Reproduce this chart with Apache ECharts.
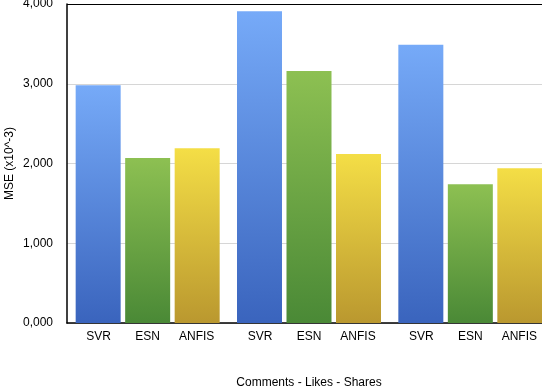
<!DOCTYPE html>
<html>
<head>
<meta charset="utf-8">
<style>
  html, body { margin: 0; padding: 0; background: #fff; }
  #chart { width: 542px; height: 386px; }
</style>
<script src="https://cdn.jsdelivr.net/npm/echarts@6/dist/echarts.min.js"></script>
</head>
<body>
<div id="chart"></div>
<script>
// 数据
var groups = ['Comments', 'Likes', 'Shares'];
var models = ['SVR', 'ESN', 'ANFIS'];
var svrValues = [2.98, 3.91, 3.49];
var esnValues = [2.07, 3.16, 1.74];
var anfisValues = [2.19, 2.12, 1.94];
var yTicks = [0, 1, 2, 3, 4];

var colorStops = [
  ['#76aaf8', '#3a64bd'],
  ['#8dc052', '#4a8936'],
  ['#f4de46', '#ba982f']
];

function grad(c) {
  return new echarts.graphic.LinearGradient(0, 0, 0, 1, [
    { offset: 0, color: c[0] },
    { offset: 1, color: c[1] }
  ]);
}

var seriesValues = [svrValues, esnValues, anfisValues];
var series = models.map(function (name, i) {
  return {
    name: name,
    type: 'bar',
    barWidth: 45,
    barGap: '10%',
    itemStyle: { color: grad(colorStops[i]) },
    data: seriesValues[i]
  };
});

var chart = echarts.init(document.getElementById('chart'));
chart.setOption({
  animation: false,
  textStyle: { fontFamily: 'Liberation Sans, Arial, sans-serif' },
  grid: { left: 67, right: -9, top: 4, bottom: 63, containLabel: false, outerBoundsMode: 'none' },
  xAxis: {
    type: 'category',
    data: groups,
    name: groups.join(' - '),
    nameLocation: 'middle',
    nameGap: 54,
    nameMoveOverlap: false,
    nameTextStyle: { color: '#000', fontSize: 12 },
    axisLine: { lineStyle: { color: '#000', width: 1.5 } },
    axisTick: { show: false },
    axisLabel: {
      interval: 0,
      hideOverlap: false,
      margin: 8,
      color: '#000',
      fontSize: 12,
      formatter: function () {
        return models.map(function (m) { return '{a|' + m + '}'; }).join('');
      },
      rich: { a: { width: 49, align: 'center', fontSize: 12, color: '#000' } }
    }
  },
  yAxis: {
    type: 'value',
    min: yTicks[0],
    max: yTicks[yTicks.length - 1],
    interval: 1,
    name: 'MSE (x10^-3)',
    nameLocation: 'middle',
    nameGap: 51,
    nameMoveOverlap: false,
    nameTextStyle: { color: '#000', fontSize: 12 },
    axisLine: { show: true, lineStyle: { color: '#000', width: 1.5 } },
    axisTick: { show: false },
    axisLabel: {
      margin: 14,
      color: '#000',
      fontSize: 12,
      formatter: function (v) { return v.toFixed(3).replace('.', ','); }
    },
    splitLine: { lineStyle: { color: ['#d6d6d6', '#d6d6d6', '#d6d6d6', '#d6d6d6', '#000'], width: 1 } }
  },
  series: series
});
</script>
</body>
</html>
